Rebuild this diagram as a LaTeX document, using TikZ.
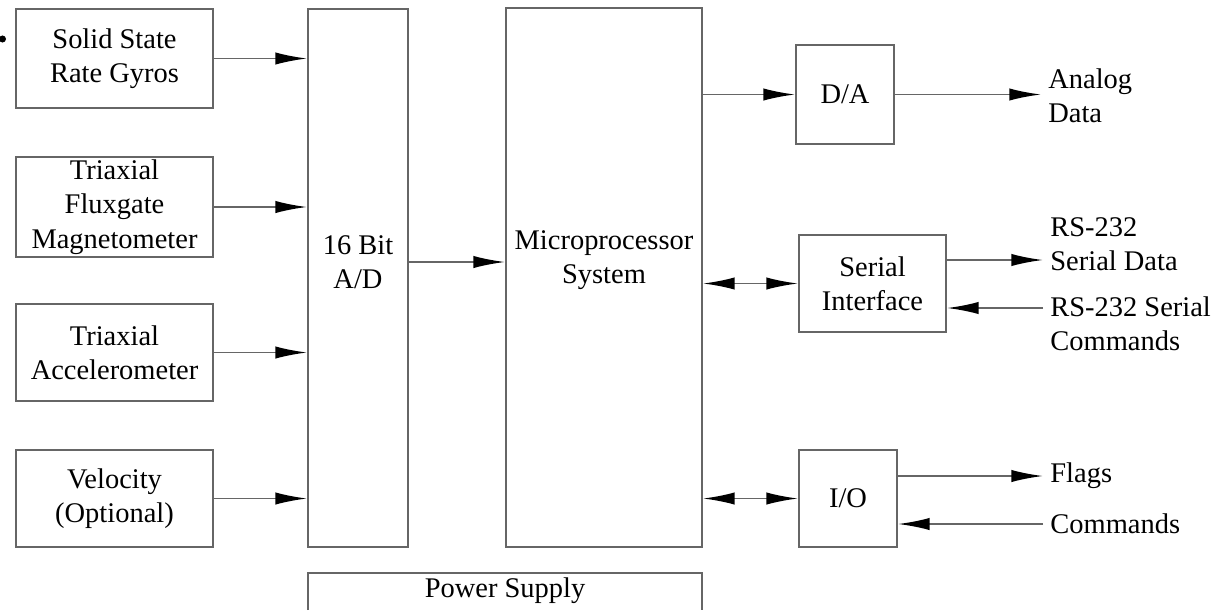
\documentclass[tikz,border=0pt]{standalone}
\usepackage{fontspec}
\setmainfont{Liberation Serif}
\usetikzlibrary{arrows.meta}
\definecolor{linegray}{HTML}{666666}
\begin{document}
\begin{tikzpicture}[x=0.02cm,y=0.02cm,
    font=\fontsize{16.2}{19.5}\selectfont,
    box/.style={draw=linegray,line width=1.1pt,align=center,inner sep=0pt},
    txt/.style={align=center,inner sep=0pt},
    lbl/.style={anchor=west,align=left,inner xsep=4pt,inner ysep=0pt},
    arr/.style={draw=linegray,line width=1.1pt,-{Latex[length=18pt,width=7pt,color=black]}},
    arrs/.style={draw=linegray,line width=1.1pt,{Latex[length=18pt,width=7pt,color=black]}-{Latex[length=18pt,width=7pt,color=black]}}]
\useasboundingbox (0,0) rectangle (1212,610);
\def\px{0.02cm}
\fill (2.5,571) circle (2pt);
\node[box,minimum width=197*\px,minimum height=99*\px] (gyro) at (114.5,551.5) {Solid State\\Rate Gyros};
\node[box,minimum width=197*\px,minimum height=100*\px] (flux) at (114.5,403) {Triaxial\\Fluxgate\\Magnetometer};
\node[box,minimum width=197*\px,minimum height=97*\px] (accel) at (114.5,257.5) {Triaxial\\Accelerometer};
\node[box,minimum width=197*\px,minimum height=97*\px] (vel) at (114.5,111.5) {Velocity\\(Optional)};
\node[box,minimum width=100*\px,minimum height=538*\px] (ad) at (358,332) {};
\node[txt] (adtext) at (358,348) {16 Bit\\A/D};
\node[box,minimum width=196*\px,minimum height=539*\px] (micro) at (604,332.5) {};
\node[txt] (microtext) at (604,350) {Microprocessor\\System};
\node[box,minimum width=98*\px,minimum height=99*\px] (da) at (845,515.5) {D/A};
\node[box,minimum width=147*\px,minimum height=97*\px] (serial) at (872.5,326.5) {Serial\\Interface};
\node[box,minimum width=98*\px,minimum height=97*\px] (io) at (848,111.5) {I/O};
\node[txt] (power) at (505,19) {Power Supply};
\draw[linegray,line width=1.1pt] (308,0) |- (702,37) -- (702,0);
\node[lbl] (analog) at (1041,514) {Analog\\Data};
\node[lbl] (sdata) at (1043,366) {RS-232\\Serial Data};
\node[lbl] (scmd) at (1043,286) {RS-232 Serial\\Commands};
\node[lbl] (flags) at (1043,134) {Flags};
\node[lbl] (cmds) at (1043,86) {Commands};
\coordinate (sdrow) at (0,350);
\coordinate (scrow) at (0,302);
\foreach \s in {gyro,flux,accel,vel}
    \draw[arr] (\s.east) -- (\s.east -| ad.west);
\draw[arr] (adtext -| ad.east) -- (adtext -| micro.west);
\draw[arr] (da.west -| micro.east) -- (da.west);
\draw[arrs] (serial.west -| micro.east) -- (serial.west);
\draw[arrs] (io.west -| micro.east) -- (io.west);
\draw[arr] (da.east) -- (da.east -| analog.west);
\draw[arr] (sdrow -| serial.east) -- (sdrow -| sdata.west);
\draw[arr] (scrow -| scmd.west) -- (scrow -| serial.east);
\draw[arr] (flags.west -| io.east) -- (flags.west);
\draw[arr] (cmds.west) -- (cmds.west -| io.east);
\end{tikzpicture}
\end{document}
